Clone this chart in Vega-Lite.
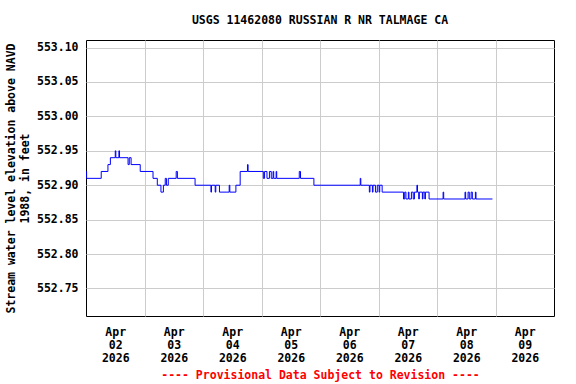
{
  "$schema": "https://vega.github.io/schema/vega-lite/v6.json",
  "autosize": "none",
  "width": 468,
  "height": 276,
  "padding": {"left": 86, "top": 40, "right": 22, "bottom": 68},
  "background": "white",
  "config": {
    "view": {"stroke": "black", "strokeWidth": 1},
    "font": "DejaVu Sans Mono",
    "axis": {"labelFont": "DejaVu Sans Mono", "titleFont": "DejaVu Sans Mono", "labelFontWeight": "bold", "titleFontWeight": "bold", "labelFontSize": 11.5, "titleFontSize": 11.5, "labelColor": "black", "titleColor": "black", "gridColor": "#cccccc", "gridOpacity": 1, "gridWidth": 1}
  },
  "title": {"text": "USGS 11462080 RUSSIAN R NR TALMAGE CA", "font": "DejaVu Sans Mono", "fontSize": 11.5, "fontWeight": "bold", "color": "black", "anchor": "middle", "offset": 14},
  "data": {"values": [
    {"time": "2026-04-02T00:00:00Z", "value": 552.92},
    {"time": "2026-04-02T00:15:00Z", "value": 552.91},
    {"time": "2026-04-02T06:15:00Z", "value": 552.92},
    {"time": "2026-04-02T09:00:00Z", "value": 552.93},
    {"time": "2026-04-02T10:00:00Z", "value": 552.94},
    {"time": "2026-04-02T12:00:00Z", "value": 552.95},
    {"time": "2026-04-02T12:15:00Z", "value": 552.94},
    {"time": "2026-04-02T13:30:00Z", "value": 552.95},
    {"time": "2026-04-02T13:45:00Z", "value": 552.94},
    {"time": "2026-04-02T17:15:00Z", "value": 552.93},
    {"time": "2026-04-02T17:45:00Z", "value": 552.94},
    {"time": "2026-04-02T18:30:00Z", "value": 552.93},
    {"time": "2026-04-02T22:15:00Z", "value": 552.92},
    {"time": "2026-04-03T03:30:00Z", "value": 552.91},
    {"time": "2026-04-03T05:15:00Z", "value": 552.90},
    {"time": "2026-04-03T06:45:00Z", "value": 552.89},
    {"time": "2026-04-03T07:45:00Z", "value": 552.90},
    {"time": "2026-04-03T08:30:00Z", "value": 552.91},
    {"time": "2026-04-03T09:00:00Z", "value": 552.90},
    {"time": "2026-04-03T09:45:00Z", "value": 552.91},
    {"time": "2026-04-03T13:00:00Z", "value": 552.92},
    {"time": "2026-04-03T13:30:00Z", "value": 552.91},
    {"time": "2026-04-03T20:45:00Z", "value": 552.90},
    {"time": "2026-04-04T03:15:00Z", "value": 552.89},
    {"time": "2026-04-04T03:30:00Z", "value": 552.90},
    {"time": "2026-04-04T05:00:00Z", "value": 552.89},
    {"time": "2026-04-04T05:15:00Z", "value": 552.90},
    {"time": "2026-04-04T06:45:00Z", "value": 552.89},
    {"time": "2026-04-04T10:45:00Z", "value": 552.90},
    {"time": "2026-04-04T11:00:00Z", "value": 552.89},
    {"time": "2026-04-04T13:30:00Z", "value": 552.90},
    {"time": "2026-04-04T15:15:00Z", "value": 552.92},
    {"time": "2026-04-04T18:15:00Z", "value": 552.93},
    {"time": "2026-04-04T18:30:00Z", "value": 552.92},
    {"time": "2026-04-05T00:45:00Z", "value": 552.91},
    {"time": "2026-04-05T01:15:00Z", "value": 552.92},
    {"time": "2026-04-05T02:15:00Z", "value": 552.91},
    {"time": "2026-04-05T03:15:00Z", "value": 552.92},
    {"time": "2026-04-05T04:00:00Z", "value": 552.91},
    {"time": "2026-04-05T04:45:00Z", "value": 552.92},
    {"time": "2026-04-05T05:00:00Z", "value": 552.91},
    {"time": "2026-04-05T06:00:00Z", "value": 552.92},
    {"time": "2026-04-05T06:15:00Z", "value": 552.91},
    {"time": "2026-04-05T15:30:00Z", "value": 552.92},
    {"time": "2026-04-05T16:00:00Z", "value": 552.91},
    {"time": "2026-04-05T21:30:00Z", "value": 552.90},
    {"time": "2026-04-06T16:30:00Z", "value": 552.91},
    {"time": "2026-04-06T16:45:00Z", "value": 552.90},
    {"time": "2026-04-06T20:15:00Z", "value": 552.89},
    {"time": "2026-04-06T20:30:00Z", "value": 552.90},
    {"time": "2026-04-06T21:30:00Z", "value": 552.89},
    {"time": "2026-04-06T21:45:00Z", "value": 552.90},
    {"time": "2026-04-06T22:45:00Z", "value": 552.89},
    {"time": "2026-04-06T23:30:00Z", "value": 552.90},
    {"time": "2026-04-07T00:15:00Z", "value": 552.89},
    {"time": "2026-04-07T00:30:00Z", "value": 552.90},
    {"time": "2026-04-07T01:30:00Z", "value": 552.89},
    {"time": "2026-04-07T10:15:00Z", "value": 552.88},
    {"time": "2026-04-07T10:45:00Z", "value": 552.89},
    {"time": "2026-04-07T11:15:00Z", "value": 552.88},
    {"time": "2026-04-07T12:15:00Z", "value": 552.89},
    {"time": "2026-04-07T12:30:00Z", "value": 552.88},
    {"time": "2026-04-07T13:30:00Z", "value": 552.89},
    {"time": "2026-04-07T14:15:00Z", "value": 552.88},
    {"time": "2026-04-07T14:45:00Z", "value": 552.89},
    {"time": "2026-04-07T15:45:00Z", "value": 552.90},
    {"time": "2026-04-07T16:00:00Z", "value": 552.89},
    {"time": "2026-04-07T16:30:00Z", "value": 552.88},
    {"time": "2026-04-07T16:45:00Z", "value": 552.89},
    {"time": "2026-04-07T18:00:00Z", "value": 552.88},
    {"time": "2026-04-07T18:15:00Z", "value": 552.89},
    {"time": "2026-04-07T19:00:00Z", "value": 552.88},
    {"time": "2026-04-07T19:15:00Z", "value": 552.89},
    {"time": "2026-04-07T20:45:00Z", "value": 552.88},
    {"time": "2026-04-08T02:30:00Z", "value": 552.89},
    {"time": "2026-04-08T02:45:00Z", "value": 552.88},
    {"time": "2026-04-08T11:30:00Z", "value": 552.89},
    {"time": "2026-04-08T11:45:00Z", "value": 552.88},
    {"time": "2026-04-08T12:45:00Z", "value": 552.89},
    {"time": "2026-04-08T13:15:00Z", "value": 552.88},
    {"time": "2026-04-08T14:00:00Z", "value": 552.89},
    {"time": "2026-04-08T14:30:00Z", "value": 552.88},
    {"time": "2026-04-08T15:45:00Z", "value": 552.89},
    {"time": "2026-04-08T16:00:00Z", "value": 552.88},
    {"time": "2026-04-08T22:45:00Z", "value": 552.88}
  ]},
  "encoding": {
    "y": {
      "field": "value", "type": "quantitative",
      "scale": {"domain": [552.71, 553.111], "zero": false, "nice": false},
      "axis": {
        "values": [552.75, 552.80, 552.85, 552.90, 552.95, 553.00, 553.05, 553.10],
        "format": ".2f", "grid": true, "ticks": false, "domain": false, "labelPadding": 8,
        "title": ["Stream water level elevation above NAVD", "1988, in feet"],
        "titlePadding": 6, "titleLineHeight": 14
      }
    }
  },
  "layer": [
    {
      "mark": {"type": "line", "interpolate": "step-after", "color": "#0000ff", "strokeWidth": 1, "opacity": 0},
      "encoding": {
        "x": {
          "field": "time", "type": "temporal",
          "scale": {"type": "utc", "domain": [{"year": 2026, "month": 4, "date": 2, "utc": true}, {"year": 2026, "month": 4, "date": 10, "utc": true}]},
          "axis": {
            "orient": "bottom", "grid": true, "labels": false, "ticks": false, "domain": false, "title": null,
            "values": [
              {"year": 2026, "month": 4, "date": 3, "utc": true},
              {"year": 2026, "month": 4, "date": 4, "utc": true},
              {"year": 2026, "month": 4, "date": 5, "utc": true},
              {"year": 2026, "month": 4, "date": 6, "utc": true},
              {"year": 2026, "month": 4, "date": 7, "utc": true},
              {"year": 2026, "month": 4, "date": 8, "utc": true},
              {"year": 2026, "month": 4, "date": 9, "utc": true}
            ]
          }
        }
      }
    },
    {
      "mark": {"type": "line", "interpolate": "step-after", "color": "#0000ff", "strokeWidth": 1},
      "encoding": {
        "x": {
          "field": "time", "type": "temporal",
          "axis": {
            "orient": "bottom", "grid": false, "ticks": false, "domain": false,
            "labelPadding": 10, "labelLineHeight": 13, "labelAlign": "center", "labelBaseline": "top",
            "labelExpr": "[utcFormat(datum.value, '%b'), utcFormat(datum.value, '%d'), utcFormat(datum.value, '%Y')]",
            "values": [
              {"year": 2026, "month": 4, "date": 2, "hours": 12, "utc": true},
              {"year": 2026, "month": 4, "date": 3, "hours": 12, "utc": true},
              {"year": 2026, "month": 4, "date": 4, "hours": 12, "utc": true},
              {"year": 2026, "month": 4, "date": 5, "hours": 12, "utc": true},
              {"year": 2026, "month": 4, "date": 6, "hours": 12, "utc": true},
              {"year": 2026, "month": 4, "date": 7, "hours": 12, "utc": true},
              {"year": 2026, "month": 4, "date": 8, "hours": 12, "utc": true},
              {"year": 2026, "month": 4, "date": 9, "hours": 12, "utc": true}
            ],
            "title": "---- Provisional Data Subject to Revision ----",
            "titleColor": "#ff0000", "titlePadding": 6
          }
        }
      }
    }
  ],
  "resolve": {"axis": {"x": "independent"}}
}
